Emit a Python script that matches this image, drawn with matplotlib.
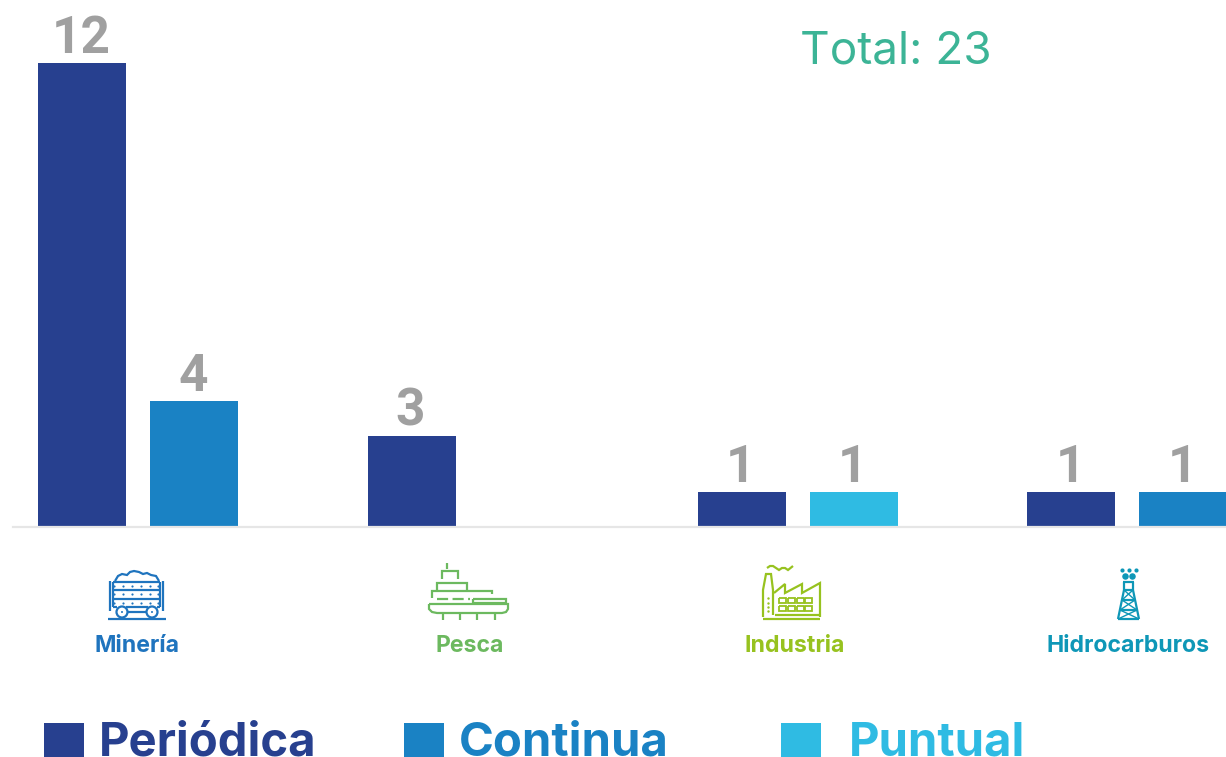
import numpy as np
import matplotlib
matplotlib.use("Agg")
import matplotlib.pyplot as plt
from matplotlib.patches import Rectangle, Circle

W, H = 1226, 757

# group index, series and value of each bar
bar_groups = [0, 0, 1, 2, 2, 3, 3]
bar_series = ["Periódica", "Continua", "Periódica", "Periódica", "Puntual", "Periódica", "Continua"]
bar_values = [12, 4, 3, 1, 1, 1, 1]

sectors = ["Minería", "Pesca", "Industria", "Hidrocarburos"]
sector_colors = ["#1F74BE", "#6CB95F", "#97C21F", "#0E97B7"]
series_names = ["Periódica", "Continua", "Puntual"]
series_colors = ["#27408F", "#1A82C4", "#2FBBE3"]
total_label = "Total: 23"

# the original bars are not proportional to the values, so the axis is piecewise
scale_values = [0, 1, 3, 4, 12, 14]
scale_heights = [0, 34.5, 90.5, 125.5, 463.5, 526]

def forward(v):
    return np.interp(v, scale_values, scale_heights)

def inverse(h):
    return np.interp(h, scale_heights, scale_values)

GROUP_STEP = 329.7
SLOT = 112
BAR_W = 88
LEFT = 12.5
FIRST = 82.3
BASE = 526.5

fig = plt.figure(figsize=(W / 100, H / 100), dpi=100)

ax = fig.add_axes([LEFT / W, (H - BASE) / H, (W - LEFT) / W, 526 / H])
ax.set_yscale("function", functions=(forward, inverse))
ax.set_ylim(0, 14)
ax.set_xlim((LEFT - FIRST) / GROUP_STEP, (W - FIRST) / GROUP_STEP)
for s in ["top", "left", "right"]:
    ax.spines[s].set_visible(False)
ax.spines["bottom"].set_color("#E6E6E6")
ax.spines["bottom"].set_linewidth(1.6)
ax.set_xticks([])
ax.set_yticks([])
ax.minorticks_off()
ax.patch.set_alpha(0)

seen = {}
for g, s, v in zip(bar_groups, bar_series, bar_values):
    n = seen.get(g, 0)
    seen[g] = n + 1
    x = g + n * SLOT / GROUP_STEP
    ax.bar(x, v, width=BAR_W / GROUP_STEP, color=series_colors[series_names.index(s)], zorder=2)
    ax.annotate(str(v), (x, v), xytext=(-1, -0.5), textcoords="offset points", ha="center", va="bottom",
                fontsize=37, fontweight="bold", family="Roboto", color="#A0A0A0", clip_on=False)

# overlay in pixel coordinates for the texts, legend and icons
ov = fig.add_axes([0, 0, 1, 1])
ov.set_xlim(0, W)
ov.set_ylim(H, 0)
ov.axis("off")
ov.patch.set_alpha(0)

ov.text(895.5, 52, total_label, ha="center", va="center", fontsize=33, family="Inter", color="#3CB496")

label_x = [137, 470, 795, 1128]
for name, col, x in zip(sectors, sector_colors, label_x):
    ov.text(x, 646, name, ha="center", va="center", fontsize=16.6, fontweight="bold", family="Inter", color=col)

legend_box_x = [44, 404, 781]
legend_text_x = [99, 459, 849]
for name, col, bx, tx in zip(series_names, series_colors, legend_box_x, legend_text_x):
    ov.add_patch(Rectangle((bx, 723), 40, 34, color=col, lw=0))
    ov.text(tx, 755, name, ha="left", va="baseline", fontsize=34, fontweight="bold", family="Inter", color=col)


def pl(xs, ys, c, lw=1.6):
    ov.plot(xs, ys, color=c, lw=lw, solid_capstyle="butt", solid_joinstyle="miter")

def box(x0, y0, x1, y1, c, lw=1.6):
    pl([x0, x1, x1, x0, x0], [y0, y0, y1, y1, y0], c, lw)

# mine cart
c = sector_colors[0]
pl([108, 166], [619, 619], c)
pl([110, 110], [581, 611], c)
pl([163, 163], [581, 611], c)
pl([113, 113], [582, 607], c)
pl([160, 160], [582, 607], c)
for y in [582, 590, 599]:
    pl([113, 160], [y, y], c)
pl([113, 117], [607, 607], c)
pl([157, 160], [607, 607], c)
pl([128, 146], [612, 612], c)
pl([126, 148], [607, 607], c)
ov.scatter(np.repeat([114, 123, 132, 141, 150, 158], 3), [586, 594, 603] * 6, s=2.5, color=c, lw=0)
for x in [122, 152]:
    ov.add_patch(Circle((x, 612), 5.5, fc="white", ec=c, lw=1.6, zorder=3))
    ov.add_patch(Circle((x, 612), 1, fc=c, ec=c, lw=0, zorder=3))
pl([115, 118, 122, 127, 130, 134, 139, 143, 147, 151, 156, 159],
   [581, 576, 574, 575, 572, 571, 572, 574, 573, 575, 576, 581], c)

# ship
c = sector_colors[1]
pl([447, 447], [563, 569], c)
pl([442, 442, 458, 458], [579, 571, 571, 579], c)
pl([437, 437, 467, 467], [590, 583, 583, 590], c)
pl([432, 432, 492, 492], [598, 591, 591, 594], c)
pl([437, 470], [599, 599], c)
ov.lines[-1].set_linestyle((0, (5, 2)))
box(473, 599, 506, 603, c)
pl([429, 429, 432, 437, 502, 506, 508, 508, 429],
   [604, 609, 612, 613, 613, 612, 609, 604, 604], c)
for x in [443, 460, 477, 495]:
    pl([x, x], [613, 620], c)

# factory
c = sector_colors[2]
pl([763, 820], [619, 619], c)
pl([775, 820], [615, 615], c)
pl([763, 763, 766, 771, 773, 773], [617, 590, 574, 574, 590, 615], c)
pl([774, 785, 785, 802, 802, 820, 820], [593, 584, 593, 584, 593, 583, 617], c)
for i in range(4):
    for y in [598, 606]:
        box(779 + i * 8.8, y, 786 + i * 8.8, y + 5, c, 1.3)
ov.scatter([768] * 4, [598, 603, 607, 611], s=3, color=c, lw=0)
pl([767, 770, 773, 776, 779, 782, 785, 788, 793],
   [568, 566, 566, 568, 570, 568, 568, 570, 566], c)

# derrick
c = sector_colors[3]
pl([1118, 1124, 1124], [619, 590, 582], c)
pl([1139, 1133, 1133], [619, 590, 582], c)
for y, a in zip([582, 590, 600, 610, 619], [1123, 1124, 1122, 1120, 1118]):
    pl([a, 2257 - a], [y, y], c)
for (y0, y1, a, b) in [(590, 600, 1124, 1122), (600, 610, 1122, 1120), (610, 619, 1120, 1118)]:
    pl([a, 2257 - b], [y0, y1], c, 1)
    pl([2257 - a, b], [y0, y1], c, 1)
ov.scatter([1125, 1132], [576, 576], s=22, color=c, lw=0)
ov.scatter([1122, 1129, 1136], [570, 570, 570], s=9, color=c, lw=0)

fig.savefig("out.png", dpi=100)
